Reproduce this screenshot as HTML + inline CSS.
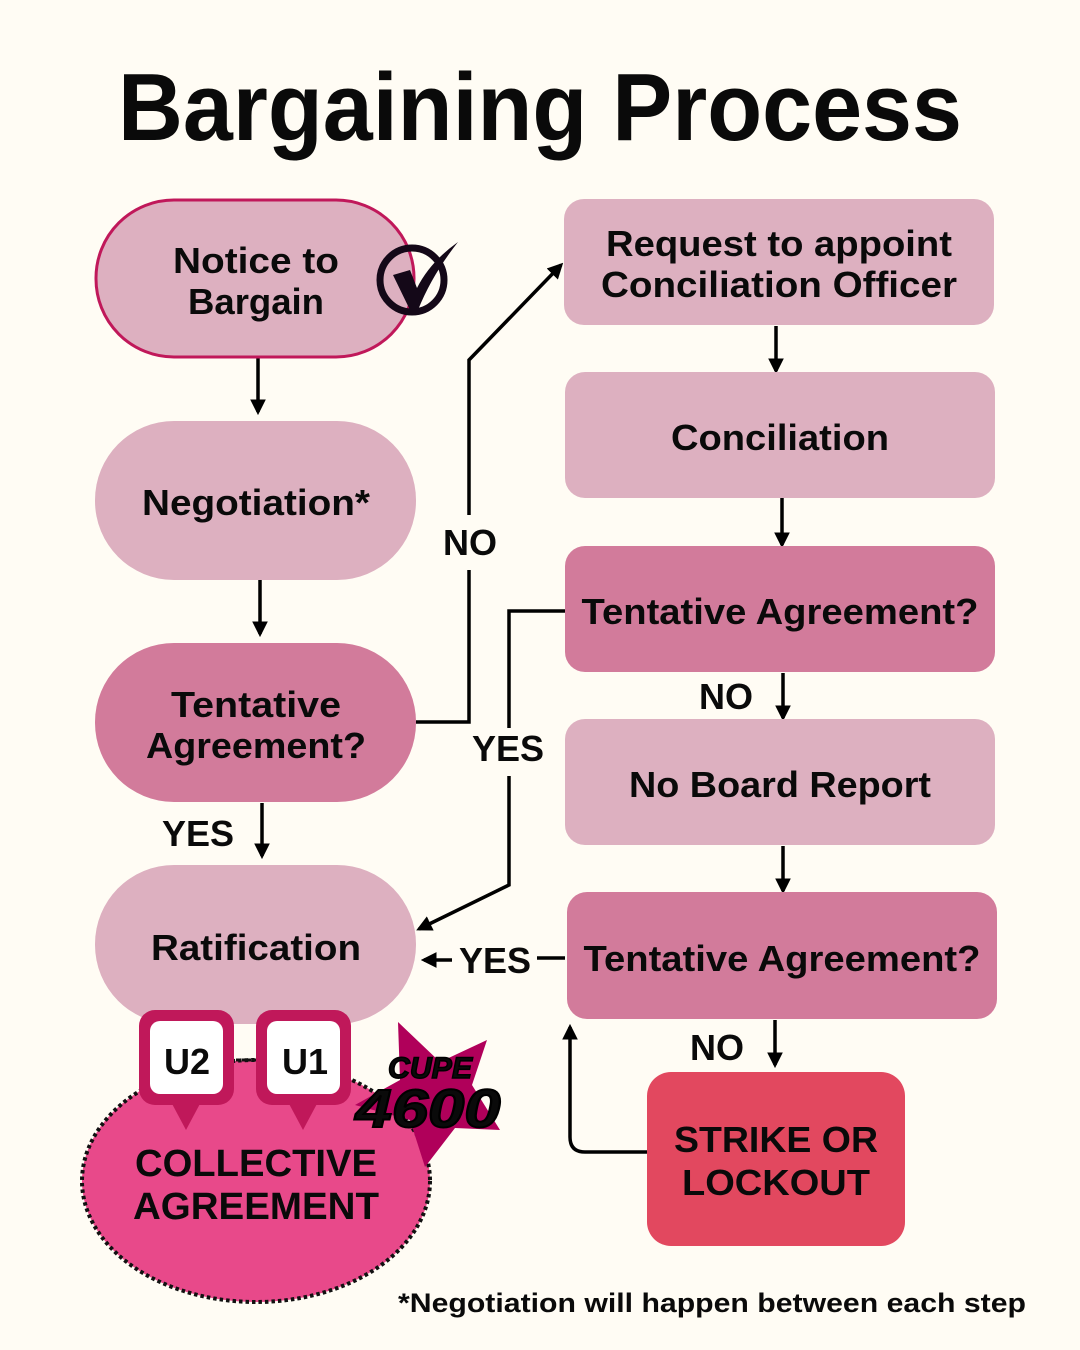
<!DOCTYPE html>
<html><head><meta charset="utf-8"><style>
html,body{margin:0;padding:0;background:#fffcf4;}
svg{display:block;}
text{font-family:"Liberation Sans","DejaVu Sans",sans-serif;font-weight:bold;fill:#0a0a0a;}
</style></head><body>
<svg width="1080" height="1350" viewBox="0 0 1080 1350" xmlns="http://www.w3.org/2000/svg">
<defs>
<marker id="a" viewBox="0 0 10 10" refX="8" refY="5" markerWidth="4.5" markerHeight="4.5" orient="auto"><path d="M0,0 L10,5 L0,10 z" fill="#000"/></marker>
</defs>
<rect width="1080" height="1350" fill="#fffcf4"/>
<text x="540" y="140" text-anchor="middle" font-size="96" textLength="844" lengthAdjust="spacingAndGlyphs">Bargaining Process</text>

<g stroke="#000" stroke-width="3.5" fill="none">
<line x1="258" y1="358" x2="258" y2="412" marker-end="url(#a)"/>
<line x1="260" y1="580" x2="260" y2="634" marker-end="url(#a)"/>
<line x1="262" y1="803" x2="262" y2="856" marker-end="url(#a)"/>
<polyline points="416,722 469,722 469,570"/>
<polyline points="469,515 469,360 561,265" marker-end="url(#a)"/>
<line x1="776" y1="326" x2="776" y2="371" marker-end="url(#a)"/>
<line x1="782" y1="498" x2="782" y2="545" marker-end="url(#a)"/>
<line x1="783" y1="673" x2="783" y2="718" marker-end="url(#a)"/>
<line x1="783" y1="846" x2="783" y2="891" marker-end="url(#a)"/>
<line x1="565" y1="958" x2="537" y2="958"/>
<line x1="452" y1="960" x2="424" y2="960" marker-end="url(#a)"/>
<polyline points="565,611 509,611 509,728"/>
<polyline points="509,776 509,885 419,929" marker-end="url(#a)"/>
<line x1="775" y1="1020" x2="775" y2="1065" marker-end="url(#a)"/>
<path d="M647,1152 L585,1152 Q570,1152 570,1137 L570,1027" marker-end="url(#a)"/>
</g>

<rect x="96" y="200" width="318" height="157" rx="78" fill="#ddb0c0" stroke="#c0185a" stroke-width="3"/>
<rect x="95" y="421" width="321" height="159" rx="79" fill="#ddb0c0"/>
<rect x="95" y="643" width="321" height="159" rx="79" fill="#d27b9b"/>
<rect x="95" y="865" width="321" height="159" rx="79" fill="#ddb0c0"/>

<rect x="564" y="199" width="430" height="126" rx="20" fill="#ddb0c0"/>
<rect x="565" y="372" width="430" height="126" rx="20" fill="#ddb0c0"/>
<rect x="565" y="546" width="430" height="126" rx="20" fill="#d27b9b"/>
<rect x="565" y="719" width="430" height="126" rx="20" fill="#ddb0c0"/>
<rect x="567" y="892" width="430" height="127" rx="20" fill="#d27b9b"/>
<rect x="647" y="1072" width="258" height="174" rx="24" fill="#e2485f"/>

<circle cx="412" cy="280" r="32" fill="none" stroke="#140818" stroke-width="7"/>
<path d="M393,275 L410,270 L417,288 Q430,262 458,242 Q432,275 418,310 L410,310 Z" fill="#140818"/>

<ellipse cx="256" cy="1181" rx="174" ry="121" fill="#e8498a" stroke="#111" stroke-width="4" stroke-dasharray="3.5,3"/>
<path d="M398,1022 L440,1062 L487,1040 L472,1085 L500,1130 L455,1128 L425,1167 L410,1120 L355,1105 L400,1080 Z" fill="#b0005a"/>
<text x="430" y="1078" font-size="30" font-style="italic" font-weight="900" text-anchor="middle" stroke="#000" stroke-width="1.5" textLength="84" lengthAdjust="spacingAndGlyphs">CUPE</text>
<text x="428" y="1127" font-size="54" font-style="italic" text-anchor="middle" stroke="#000" stroke-width="2" textLength="145" lengthAdjust="spacingAndGlyphs">4600</text>
<line x1="236" y1="1060" x2="258" y2="1060" stroke="#111" stroke-width="3" stroke-dasharray="3,3"/>
<g fill="#c0185a">
<rect x="139" y="1010" width="95" height="95" rx="16"/>
<path d="M170,1100 L202,1100 L186,1130 Z"/>
<rect x="256" y="1010" width="95" height="95" rx="16"/>
<path d="M287,1100 L319,1100 L303,1130 Z"/>
</g>
<rect x="150" y="1021" width="73" height="73" rx="10" fill="#fff"/>
<rect x="267" y="1021" width="73" height="73" rx="10" fill="#fff"/>
<text x="187" y="1074" font-size="36" text-anchor="middle">U2</text>
<text x="305" y="1074" font-size="36" text-anchor="middle">U1</text>
<text x="256" y="1176" font-size="38" text-anchor="middle" textLength="242" lengthAdjust="spacingAndGlyphs">COLLECTIVE</text>
<text x="256" y="1219" font-size="38" text-anchor="middle" textLength="246" lengthAdjust="spacingAndGlyphs">AGREEMENT</text>

<g font-size="36" text-anchor="middle">
<text x="256" y="273" textLength="166" lengthAdjust="spacingAndGlyphs">Notice to</text>
<text x="256" y="314" textLength="136" lengthAdjust="spacingAndGlyphs">Bargain</text>
<text x="256" y="515" textLength="228" lengthAdjust="spacingAndGlyphs">Negotiation*</text>
<text x="256" y="717" textLength="170" lengthAdjust="spacingAndGlyphs">Tentative</text>
<text x="256" y="758" textLength="220" lengthAdjust="spacingAndGlyphs">Agreement?</text>
<text x="256" y="960" textLength="210" lengthAdjust="spacingAndGlyphs">Ratification</text>
<text x="779" y="256" textLength="346" lengthAdjust="spacingAndGlyphs">Request to appoint</text>
<text x="779" y="297" textLength="356" lengthAdjust="spacingAndGlyphs">Conciliation Officer</text>
<text x="780" y="450" textLength="218" lengthAdjust="spacingAndGlyphs">Conciliation</text>
<text x="780" y="624" textLength="397" lengthAdjust="spacingAndGlyphs">Tentative Agreement?</text>
<text x="780" y="797" textLength="302" lengthAdjust="spacingAndGlyphs">No Board Report</text>
<text x="782" y="971" textLength="397" lengthAdjust="spacingAndGlyphs">Tentative Agreement?</text>
<text x="776" y="1152" textLength="204" lengthAdjust="spacingAndGlyphs">STRIKE OR</text>
<text x="776" y="1195" textLength="188" lengthAdjust="spacingAndGlyphs">LOCKOUT</text>
<text x="470" y="555">NO</text>
<text x="726" y="709">NO</text>
<text x="198" y="846">YES</text>
<text x="508" y="761">YES</text>
<text x="495" y="973">YES</text>
<text x="717" y="1060">NO</text>
</g>
<text x="712" y="1312" font-size="27" text-anchor="middle" textLength="628" lengthAdjust="spacingAndGlyphs">*Negotiation will happen between each step</text>
</svg>
</body></html>
